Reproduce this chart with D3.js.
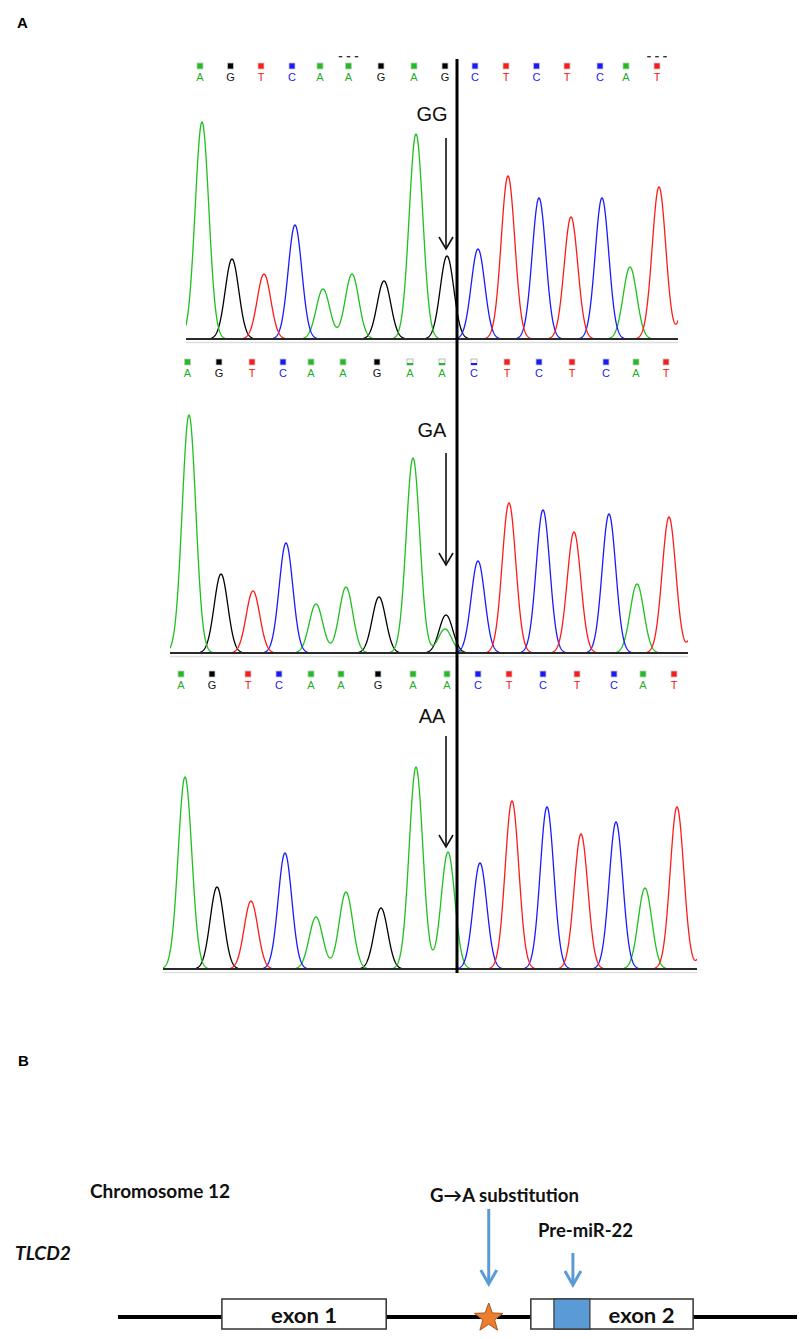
<!DOCTYPE html>
<html><head><meta charset="utf-8">
<script src="https://cdn.jsdelivr.net/npm/d3@7"></script>
<style>body{margin:0;background:#fff}svg{display:block}</style>
</head><body>
<svg id="c" width="801" height="1339"></svg>
<script>
// ================= DATA =================
const genotypes = ["GG", "GA", "AA"];

// base calls shown above each trace
const baseCalls1 = ["A","G","T","C","A","A","G","A","G","C","T","C","T","C","A","T"];
const baseCalls2 = ["A","G","T","C","A","A","G","A","A","C","T","C","T","C","A","T"];
const baseCalls3 = ["A","G","T","C","A","A","G","A","A","C","T","C","T","C","A","T"];
// base-call locations (scan number)
const callScans1 = [28, 89, 150, 212, 268, 325, 390, 456, 518, 578, 640, 701, 762, 828, 880, 942];
const callScans2 = [35, 98, 164, 226, 282, 346, 414, 480, 544, 608, 674, 738, 804, 872, 932, 992];
const callScans3 = [36, 98, 170, 232, 296, 356, 430, 500, 568, 630, 692, 760, 828, 902, 960, 1022];
// low-quality calls (index) in the heterozygous trace
const lowQuality2 = [7, 8, 9];
// calls with dash marks above (trace 1)
const dashMarks1 = [5, 15];

// peaks of each trace: base channel, scan location, signal intensity
const peakBases1   = ["A","G","T","C","A","A","G","A","G","C","T","C","T","C","A","T","T"];
const peakScans1   = [32, 92, 156, 218, 274, 332, 396, 460, 522, 584, 644, 706, 770, 832, 888, 946, 1012];
const peakHeights1 = [1736, 640, 520, 912, 400, 520, 464, 1640, 664, 720, 1304, 1128, 976, 1128, 576, 1216, 1040];

const peakBases2   = ["A","G","T","C","A","A","G","A","G","A","C","T","C","T","C","A","T","T"];
const peakScans2   = [38, 102, 166, 232, 292, 352, 418, 486, 552, 550, 616, 678, 746, 808, 878, 934, 998, 1066];
const peakHeights2 = [1904, 632, 496, 880, 392, 528, 448, 1560, 304, 192, 736, 1200, 1144, 968, 1112, 552, 1088, 900];

const peakBases3   = ["A","G","T","C","A","A","G","A","A","C","T","C","T","C","A","T","T"];
const peakScans3   = [44, 108, 176, 244, 306, 366, 436, 506, 570, 634, 698, 768, 836, 906, 964, 1028, 1100];
const peakHeights3 = [1536, 656, 544, 928, 416, 616, 488, 1616, 936, 848, 1344, 1296, 1080, 1176, 648, 1296, 1000];

const scanRanges = [984, 1036, 1068];

// gene diagram (relative locus coordinates, 0-100)
const exonNames  = ["exon 1", "exon 2"];
const exonStarts = [15.3, 60.8];
const exonEnds   = [39.5, 84.7];
const preMirStart = 64.2, preMirEnd = 69.5;
const snpPos = 54.6;
const locusExtent = [0, 100];

// ================= DRAW =================
const svg = d3.select("#c");
const traceColor = {A: "#1fbf1f", G: "#000000", T: "#ff1a1a", C: "#1a1aff"};
const letterColor = {A: "#22b022", G: "#111111", T: "#ee1111", C: "#2222ee"};
const channelOrder = ["G", "A", "C", "T"];

svg.append("text").attr("x", 17).attr("y", 28)
  .attr("font-family", "Liberation Sans, Arial, sans-serif").attr("font-weight", "bold")
  .attr("font-size", 15).text("A");

const panels = [
  {x0: 186, x1: 678, base: 339, labelY: 63, arrowTop: 138, arrowTip: 249, textY: 121,
   calls: baseCalls1, callScans: callScans1, bases: peakBases1, scans: peakScans1, heights: peakHeights1},
  {x0: 170, x1: 688, base: 653, labelY: 359, arrowTop: 453, arrowTip: 565, textY: 437,
   calls: baseCalls2, callScans: callScans2, bases: peakBases2, scans: peakScans2, heights: peakHeights2},
  {x0: 163, x1: 697, base: 969, labelY: 671, arrowTop: 736, arrowTip: 847, textY: 723,
   calls: baseCalls3, callScans: callScans3, bases: peakBases3, scans: peakScans3, heights: peakHeights3}
];

const sigma = 13.6; // scan units

panels.forEach((p, pi) => {
  const x = d3.scaleLinear().domain([0, scanRanges[pi]]).range([p.x0, p.x1]);
  const y = d3.scaleLinear().domain([0, 2000]).range([p.base, p.base - 250]);
  const g = svg.append("g");
  const clipId = "clip" + pi;
  g.append("clipPath").attr("id", clipId).append("rect")
    .attr("x", p.x0).attr("y", p.base - 300).attr("width", p.x1 - p.x0).attr("height", 301);

  // axis lines
  g.append("line").attr("x1", p.x0).attr("x2", p.x1).attr("y1", p.base + 3.5).attr("y2", p.base + 3.5)
    .attr("stroke", "#dddddd").attr("stroke-width", 1.5);

  // sample scans
  const samples = d3.range(0, scanRanges[pi] + 0.01, 0.5);
  channelOrder.forEach(ch => {
    const idx = p.bases.map((b, i) => b === ch ? i : -1).filter(i => i >= 0);
    const pts = samples.map(s => {
      let v = 0;
      idx.forEach(i => { const d = s - p.scans[i]; v += p.heights[i] * Math.exp(-d * d / (2 * sigma * sigma)); });
      return [s, v];
    });
    const line = d3.line().defined(d => d[1] > 5).x(d => x(d[0])).y(d => y(d[1]));
    g.append("path").attr("d", line(pts)).attr("fill", "none")
      .attr("stroke", traceColor[ch]).attr("stroke-width", 1.3)
      .attr("clip-path", `url(#${clipId})`);
  });

  g.append("line").attr("x1", p.x0).attr("x2", p.x1).attr("y1", p.base).attr("y2", p.base)
    .attr("stroke", "#2a2a2a").attr("stroke-width", 2);

  // base call labels
  p.calls.forEach((b, i) => {
    const cx = x(p.callScans[i]);
    const lowQ = pi === 1 && lowQuality2.includes(i);
    g.append("rect").attr("x", cx - 3).attr("y", p.labelY).attr("width", 6).attr("height", 6)
      .attr("fill", lowQ ? "#ffffff" : traceColor[b]).attr("stroke", lowQ ? "#aaaaaa" : "#c8c8c8").attr("stroke-width", 0.8);
    if (lowQ) {
      g.append("rect").attr("x", cx - 3).attr("y", p.labelY + 4).attr("width", 6).attr("height", 2)
        .attr("fill", traceColor[b]);
    }
    g.append("text").attr("x", cx).attr("y", p.labelY + 18).attr("text-anchor", "middle")
      .attr("font-family", "Liberation Sans, Arial, sans-serif").attr("font-size", 11)
      .attr("fill", letterColor[b]).text(b);
    if (pi === 0 && dashMarks1.includes(i)) {
      [-8, 0, 8].forEach(o => {
        g.append("rect").attr("x", cx + o - 1.8).attr("y", p.labelY - 7).attr("width", 3.6).attr("height", 1.4)
          .attr("fill", "#333");
      });
    }
  });

  // genotype label and arrow
  const ax = 446;
  g.append("text").attr("x", 432).attr("y", p.textY).attr("text-anchor", "middle")
    .attr("font-family", "Liberation Sans, Arial, sans-serif").attr("font-size", 20)
    .attr("fill", "#111").text(genotypes[pi]);
  g.append("line").attr("x1", ax).attr("x2", ax).attr("y1", p.arrowTop).attr("y2", p.arrowTip)
    .attr("stroke", "#111").attr("stroke-width", 1.6);
  g.append("path").attr("d", `M${ax - 7},${p.arrowTip - 12}L${ax},${p.arrowTip}L${ax + 7},${p.arrowTip - 12}`)
    .attr("fill", "none").attr("stroke", "#111").attr("stroke-width", 1.6);
});

// vertical reference line
svg.append("line").attr("x1", 457).attr("x2", 457).attr("y1", 59).attr("y2", 973)
  .attr("stroke", "#000").attr("stroke-width", 3);

// ================= PANEL B =================
const fontB = "Lato, 'Open Sans', sans-serif";
svg.append("text").attr("x", 18).attr("y", 1066)
  .attr("font-family", "Liberation Sans, Arial, sans-serif").attr("font-weight", "bold")
  .attr("font-size", 15).text("B");

const gx = d3.scaleLinear().domain(locusExtent).range([118, 797]);
const lineY = 1317, boxTop = 1299, boxH = 30;
const blue = "#5b9bd5";

svg.append("line").attr("x1", gx(locusExtent[0])).attr("x2", gx(locusExtent[1]))
  .attr("y1", lineY).attr("y2", lineY).attr("stroke", "#000").attr("stroke-width", 4);

exonNames.forEach((n, i) => {
  svg.append("rect").attr("x", gx(exonStarts[i])).attr("y", boxTop)
    .attr("width", gx(exonEnds[i]) - gx(exonStarts[i])).attr("height", boxH)
    .attr("fill", "#fff").attr("stroke", "#333").attr("stroke-width", 1.5);
});
svg.append("rect").attr("x", gx(preMirStart)).attr("y", boxTop)
  .attr("width", gx(preMirEnd) - gx(preMirStart)).attr("height", boxH)
  .attr("fill", blue).attr("stroke", "#333").attr("stroke-width", 1.2);

// exon labels
const exonLabelX = [gx((exonStarts[0] + exonEnds[0]) / 2), gx((preMirEnd + exonEnds[1]) / 2)];
exonNames.forEach((n, i) => {
  svg.append("text").attr("x", exonLabelX[i]).attr("y", 1323).attr("text-anchor", "middle")
    .attr("font-family", fontB).attr("font-weight", "bold").attr("font-size", 21)
    .attr("textLength", 66).attr("lengthAdjust", "spacingAndGlyphs")
    .attr("fill", "#111").text(n);
});

// star (SNP)
const sx = gx(snpPos), sy = 1318, R = 15, r = 6.2;
const starPts = d3.range(10).map(k => {
  const ang = -Math.PI / 2 + k * Math.PI / 5;
  const rad = k % 2 === 0 ? R : r;
  return [sx + rad * Math.cos(ang), sy + rad * Math.sin(ang)];
});
svg.append("path").attr("d", "M" + starPts.map(p => p.join(",")).join("L") + "Z")
  .attr("fill", "#ed7d31").attr("stroke", "#a3561f").attr("stroke-width", 1);

// blue arrows
function blueArrow(xc, y1, tip) {
  svg.append("line").attr("x1", xc).attr("x2", xc).attr("y1", y1).attr("y2", tip - 1)
    .attr("stroke", blue).attr("stroke-width", 3);
  svg.append("path").attr("d", `M${xc - 8},${tip - 14}L${xc},${tip}L${xc + 8},${tip - 14}`)
    .attr("fill", "none").attr("stroke", blue).attr("stroke-width", 3);
}
blueArrow(sx, 1209, 1284);
blueArrow(gx((preMirStart + preMirEnd) / 2) + 1, 1253, 1285);

// annotation texts
function label(t, xx, yy, w, italic) {
  svg.append("text").attr("x", xx).attr("y", yy)
    .attr("font-family", fontB).attr("font-weight", "bold").attr("font-size", 18)
    .attr("font-style", italic ? "italic" : "normal")
    .attr("textLength", w).attr("lengthAdjust", "spacingAndGlyphs")
    .attr("fill", "#111").text(t);
}
label("Chromosome 12", 90, 1198, 140, false);
label("TLCD2", 15, 1260, 56, true);
label("G\u2192A substitution", 430, 1202, 149, false);
label("Pre-miR-22", 538, 1237, 95, false);
</script>
</body></html>
